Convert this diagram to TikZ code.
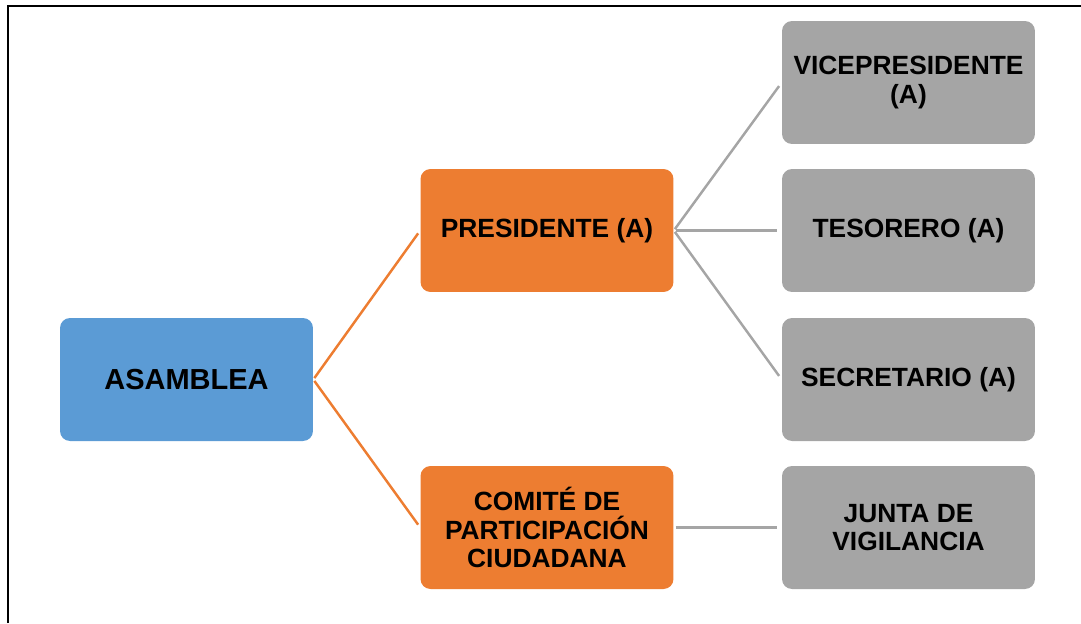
\documentclass[tikz,border=0pt]{standalone}
\usepackage{fontspec}
\setmainfont{Liberation Sans}
\usepackage{xcolor}
\usepackage{tikz}

\definecolor{azul}{HTML}{5B9BD5}
\definecolor{naranja}{HTML}{ED7D31}
\definecolor{gris}{HTML}{A5A5A5}

\begin{document}
\begin{tikzpicture}[x=0.02cm, y=-0.02cm,
  caja/.style={rectangle, rounded corners=0.2cm, minimum width=5.06cm, minimum height=2.46cm,
    align=center, font=\fontsize{15}{16}\selectfont\bfseries, text=black, inner sep=2pt},
  raiz/.style={caja, fill=azul, font=\fontsize{16.5}{18}\selectfont\bfseries},
  jefe/.style={caja, fill=naranja},
  cargo/.style={caja, fill=gris},
  lineanar/.style={draw=naranja, line width=1.4pt, shorten <=1pt, shorten >=2pt},
  lineagris/.style={draw=gris, line width=1.4pt, shorten <=1pt, shorten >=2.5pt}]
  \useasboundingbox (0,0) rectangle (1081,623);
  % marco
  \draw[line width=1.7pt] (8,623) -- (8,6) -- (1081,6);

  \node (asamblea) [raiz] at (186.5,379.5) {ASAMBLEA};
  \node (presidente) [jefe] at (547,230.5) {PRESIDENTE (A)};
  \node (comite) [jefe] at (547,527.5) {COMITÉ DE\\PARTICIPACIÓN\\CIUDADANA};
  \node (vice) [cargo] at (908.5,82.5) {VICEPRESIDENTE\\(A)};
  \node (tesorero) [cargo] at (908.5,230.5) {TESORERO (A)};
  \node (secretario) [cargo] at (908.5,379.5) {SECRETARIO (A)};
  \node (junta) [cargo] at (908.5,527.5) {JUNTA DE\\VIGILANCIA};

  \draw[lineanar] (asamblea.east) -- (presidente.west);
  \draw[lineanar] (asamblea.east) -- (comite.west);
  \draw[lineagris] (presidente.east) -- (vice.west);
  \draw[lineagris] (presidente.east) -- (tesorero.west);
  \draw[lineagris] (presidente.east) -- (secretario.west);
  \draw[lineagris] (comite.east) -- (junta.west);
\end{tikzpicture}
\end{document}
